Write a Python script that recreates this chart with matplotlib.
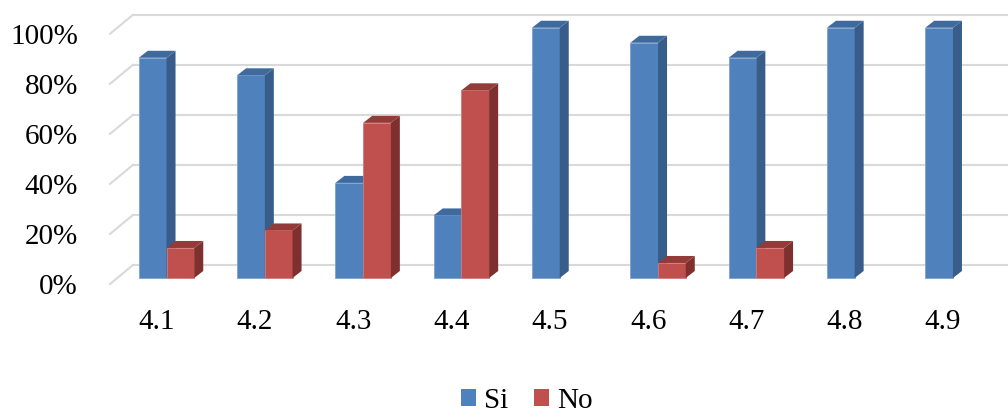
import matplotlib
matplotlib.use("Agg")
import matplotlib.pyplot as plt
from matplotlib.patches import Polygon, Patch

# datos del grafico
categorias = ["4.1", "4.2", "4.3", "4.4", "4.5", "4.6", "4.7", "4.8", "4.9"]
si = [88, 81, 38, 25, 100, 94, 88, 100, 100]
no = [12, 19, 62, 75, 0, 6, 12, 0, 0]
ticks_y = [0, 20, 40, 60, 80, 100]

azul = ("#4F81BD", "#385D8A", "#3F6A9E")
rojo = ("#C0504D", "#7E302E", "#933B39")

plt.rcParams['font.family'] = ['Liberation Serif', 'DejaVu Serif']

fig = plt.figure(figsize=(10.08, 4.16), dpi=100)
# ejes en pixeles: izquierda 110, abajo 284, arriba 14
ax = fig.add_axes([110 / 1008, (416 - 284) / 416, 1 - 110 / 1008, (284 - 14) / 416])
ax.set_xlim(-0.575, 8.56)
ax.set_ylim(-2.4, 105.5)
for s in ax.spines.values():
    s.set_visible(False)

# desplazamientos de profundidad (efecto 3D)
bdx, bdy = 0.0916, 2.8      # profundidad de la barra
wdx, wdy = 0.16, 5.2        # pared del fondo
fdx, fdy = -0.074, -2.4     # plano frontal

# rejilla en la pared del fondo y lineas laterales
for v in ticks_y:
    ax.plot([-0.575 + 0.234, 8.56], [v + wdy, v + wdy], color="#D9D9D9", lw=1.5, zorder=0)
    ax.plot([-0.575, -0.575 + 0.234], [v + fdy, v + wdy], color="#D9D9D9", lw=1.5, zorder=0,
            clip_on=False)

w = 0.282
x = list(range(len(categorias)))


def barra3d(x0, h, colores):
    if h <= 0:
        return
    frente, lado, tapa = colores
    ax.bar(x0, h, width=w, align="edge", color=frente, edgecolor="#7FA2D0" if frente == azul[0] else "#D27C7A",
           linewidth=0.6, zorder=2)
    x1 = x0 + w
    ax.add_patch(Polygon([(x1, 0), (x1 + bdx, bdy), (x1 + bdx, h + bdy), (x1, h)],
                         closed=True, facecolor=lado, edgecolor="none", zorder=2))
    ax.add_patch(Polygon([(x0, h), (x0 + bdx, h + bdy), (x1 + bdx, h + bdy), (x1, h)],
                         closed=True, facecolor=tapa, edgecolor="none", zorder=2))


for i in x:
    barra3d(i - w, si[i], azul)
    barra3d(i, no[i], rojo)

ax.set_yticks([v + fdy for v in ticks_y])
ax.set_yticklabels([f"{v}%" for v in ticks_y])
ax.set_xticks([i - 0.10 for i in x])
ax.set_xticklabels(categorias)
ax.tick_params(axis="y", length=0, pad=23, labelsize=21)
ax.tick_params(axis="x", length=0, pad=18, labelsize=21)

handles = [Patch(facecolor=azul[0], label="Si"), Patch(facecolor=rojo[0], label="No")]
fig.legend(handles=handles, loc="center", bbox_to_anchor=(527 / 1008, 0.036), ncol=2,
           frameon=False, fontsize=21, handlelength=0.5, handleheight=0.5,
           handletextpad=0.27, columnspacing=0.9)

fig.savefig("out.png", dpi=100)
